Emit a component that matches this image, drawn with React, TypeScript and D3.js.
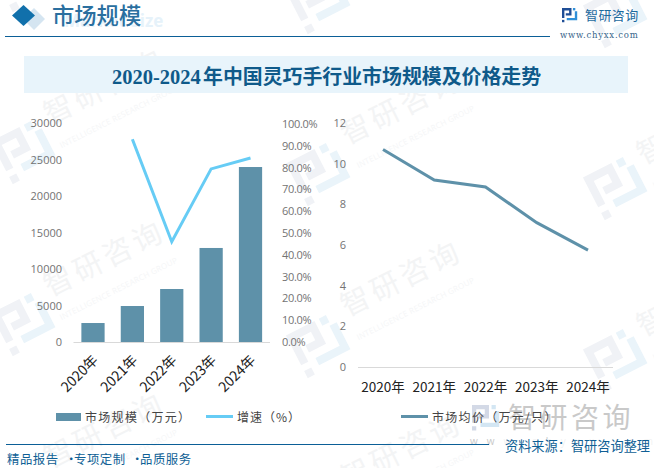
import React from "react";
import * as d3 from "d3";

const years = ["2020年", "2021年", "2022年", "2023年", "2024年"];
const marketSize = [2600, 4930, 7260, 12880, 23970];
const growth = [93, 46, 79.4, 84.4];
const growthYears = ["2021年", "2022年", "2023年", "2024年"];
const avgPrice = [10.7, 9.2, 8.85, 7.1, 5.75];
const leftTicks = [0, 5000, 10000, 15000, 20000, 25000, 30000];
const pctTicks = [0, 10, 20, 30, 40, 50, 60, 70, 80, 90, 100];
const priceTicks = [0, 2, 4, 6, 8, 10, 12];
const wmPositions: [number, number][] = [[50, 125], [50, 297], [50, 469], [347, 145], [347, 317], [347, 489], [643, 165], [643, 337], [643, 509]];
const logoPositions: [number, number][] = [[25, -21], [25, 151], [25, 323], [320, 1], [320, 173], [320, 345], [617, 15], [617, 187], [617, 359]];

const SANS = "'Noto Sans CJK SC', 'Open Sans', sans-serif";
const NUM = "'Open Sans', 'Noto Sans CJK SC', sans-serif";
const BLUE = "#0b5f97";

const x1 = d3.scaleBand().domain(years).range([73.5, 270]).paddingInner(0.41).paddingOuter(0.2);
const y1 = d3.scaleLinear().domain([0, 30000]).range([342, 123]);
const yPct = d3.scaleLinear().domain([0, 100]).range([342, 124]);
const x2 = d3.scalePoint().domain(years).range([383, 588]);
const y2 = d3.scaleLinear().domain([0, 12]).range([367, 123]);

const growthLine = d3.line<number>()
  .x((_, i) => x1(growthYears[i])! + x1.bandwidth() / 2)
  .y((d) => yPct(d));
const priceLine = d3.line<number>()
  .x((_, i) => x2(years[i])!)
  .y((d) => y2(d));

function Logo({ x, y, s, dark, light }: { x: number; y: number; s: number; dark: string; light: string }) {
  return (
    <g transform={`translate(${x},${y}) scale(${s})`}>
      <path fill={dark} d="M0 0H10V8H4V5.5H7.5V2.5H2.5V10.5H0Z" />
      <rect fill={dark} x="0" y="12.5" width="2.5" height="2.5" />
      <rect fill={light} x="11.5" y="0" width="2.5" height="2.5" />
      <path fill={light} d="M13.5 3.5H16V13H5V10.5H13.5Z" />
    </g>
  );
}

export default function App() {
  return (
    <svg width={654} height={468} style={{ position: "absolute", left: 0, top: 0 }}>
      <rect width={654} height={468} fill="#fff" />
      {/* watermarks */}
      {logoPositions.map(([x, y], i) => (
        <g key={i} transform={`rotate(-27 ${x} ${y})`}>
          <Logo x={x - 26} y={y - 24} s={3.2} dark="#f0f2f6" light="#eaf4fa" />
        </g>
      ))}
      {wmPositions.map(([x, y], i) => (
        <g key={i} transform={`translate(${x},${y}) rotate(-26.5)`}>
          <text x={0} y={0} fontFamily={SANS} fontSize={29} fill="#f3f4f5" letterSpacing={4}>智研咨询</text>
          <text x={0} y={26} textLength={130} fontFamily={NUM} fontSize={8} fill="#f5f6f7">INTELLIGENCE RESEARCH GROUP</text>
        </g>
      ))}

      {/* header */}
      <text x={64} y={27} fontFamily={NUM} fontWeight={700} fontSize={17} fill="#e6f2fa">Market Size</text>
      <path d="M34 8L45 19L34 30L23 19Z" fill="#d5e5f1" />
      <path d="M23.5 5L35 15.5L23.5 26L12 15.5Z" fill="#1170ab" />
      <text x={52} y={24} fontFamily={SANS} fontWeight={500} fontSize={22.3} fill="#2a6f9f">市场规模</text>
      <line x1={5} x2={550} y1={36.5} y2={36.5} stroke={BLUE} strokeWidth={1.2} />
      <Logo x={562} y={8} s={0.95} dark="#1f4e96" light="#2f8fd8" />
      <text x={585} y={20} fontFamily={SANS} fontSize={13} fill="#1d6a9e" letterSpacing={0.4}>智研咨询</text>
      <text x={560} y={38} fontFamily="'DejaVu Serif', serif" fontSize={8.5} fill="#35648a" letterSpacing={0.75}>www.chyxx.com</text>

      {/* title */}
      <rect x={24} y={56} width={604} height={37} fill="#e8f4fb" />
      <text x={112} y={84} fontFamily={SANS} fontWeight={700} fontSize={19.9} fill="#0f5a8a">
        <tspan fontFamily="'Liberation Serif', serif" fontSize={20.5}>2020-2024</tspan>
        <tspan x={203}>年中国灵巧手行业市场规模及价格走势</tspan>
      </text>

      {/* left chart */}
      <line x1={73.5} x2={270} y1={342.5} y2={342.5} stroke="#d9d9d9" />
      {years.map((d, i) => (
        <rect key={d} x={x1(d)} y={y1(marketSize[i])} width={x1.bandwidth()} height={342 - y1(marketSize[i])} fill="#5e91a9" />
      ))}
      <path d={growthLine(growth)!} fill="none" stroke="#66ccf5" strokeWidth={3} />
      {leftTicks.map((t) => (
        <text key={t} x={62} y={y1(t) + 4} textAnchor="end" fontFamily={NUM} fontSize={11} fill="#737373">{t}</text>
      ))}
      {pctTicks.map((t) => (
        <text key={t} x={282} y={yPct(t) + 4} fontFamily={NUM} fontSize={11} letterSpacing={-0.3} fill="#737373">{t.toFixed(1)}%</text>
      ))}
      {years.map((d) => (
        <text key={d} transform={`translate(${x1(d)! + x1.bandwidth() / 2 + 6},${361}) rotate(-45)`} textAnchor="end" fontFamily={SANS} fontSize={14} fill="#222">{d}</text>
      ))}

      {/* right chart */}
      <line x1={358} x2={613} y1={367.5} y2={367.5} stroke="#d9d9d9" />
      <path d={priceLine(avgPrice)!} fill="none" stroke="#5e91a9" strokeWidth={3} />
      {priceTicks.map((t) => (
        <text key={t} x={346} y={y2(t) + 4} textAnchor="end" fontFamily={NUM} fontSize={11} fill="#737373">{t}</text>
      ))}
      {years.map((d) => (
        <text key={d} x={x2(d)} y={392} textAnchor="middle" fontFamily={SANS} fontSize={13.5} fill="#222">{d}</text>
      ))}

      {/* bottom watermark */}
      <Logo x={472} y={405} s={1.7} dark="#d3d9e6" light="#d3e6f3" />
      <text x={508} y={428} fontFamily={SANS} fontSize={28} fill="#c9c9c9" letterSpacing={3.5}>智研咨询</text>
      <text x={470} y={445} fontFamily={NUM} fontSize={10} fill="#c9c9c9" letterSpacing={9}>www.chyxx.com</text>

      {/* legends */}
      <rect x={56} y={413} width={25} height={8} fill="#5e91a9" />
      <text x={85} y={421.5} fontFamily={SANS} fontSize={12} fill="#444" letterSpacing={1.3}>市场规模（万元）</text>
      <line x1={206} x2={233} y1={416.5} y2={416.5} stroke="#66ccf5" strokeWidth={3} />
      <text x={237} y={421.5} fontFamily={SANS} fontSize={12} fill="#444" letterSpacing={1}>增速（%）</text>
      <line x1={401} x2={428} y1={416.5} y2={416.5} stroke="#5e91a9" strokeWidth={3} />
      <text x={432} y={421.5} fontFamily={SANS} fontSize={12} fill="#444" letterSpacing={1.3}>市场均价（万元/只）</text>

      {/* footer */}
      <line x1={6} x2={489} y1={444.5} y2={444.5} stroke={BLUE} strokeWidth={1.2} />
      <text y={464} fontFamily={SANS} fontSize={12.4} fill="#0f5f95" letterSpacing={0.5}>
        <tspan x={7}>精品报告</tspan>
        <tspan x={65}>·</tspan>
        <tspan x={74}>专项定制</tspan>
        <tspan x={131}>·</tspan>
        <tspan x={140}>品质服务</tspan>
      </text>
      <rect x={503} y={439} width={150} height={14} fill="#fff" opacity={0.75} />
      <text x={505} y={451} fontFamily={SANS} fontSize={13.2} fill="#0f5f95">资料来源：智研咨询整理</text>
    </svg>
  );
}
